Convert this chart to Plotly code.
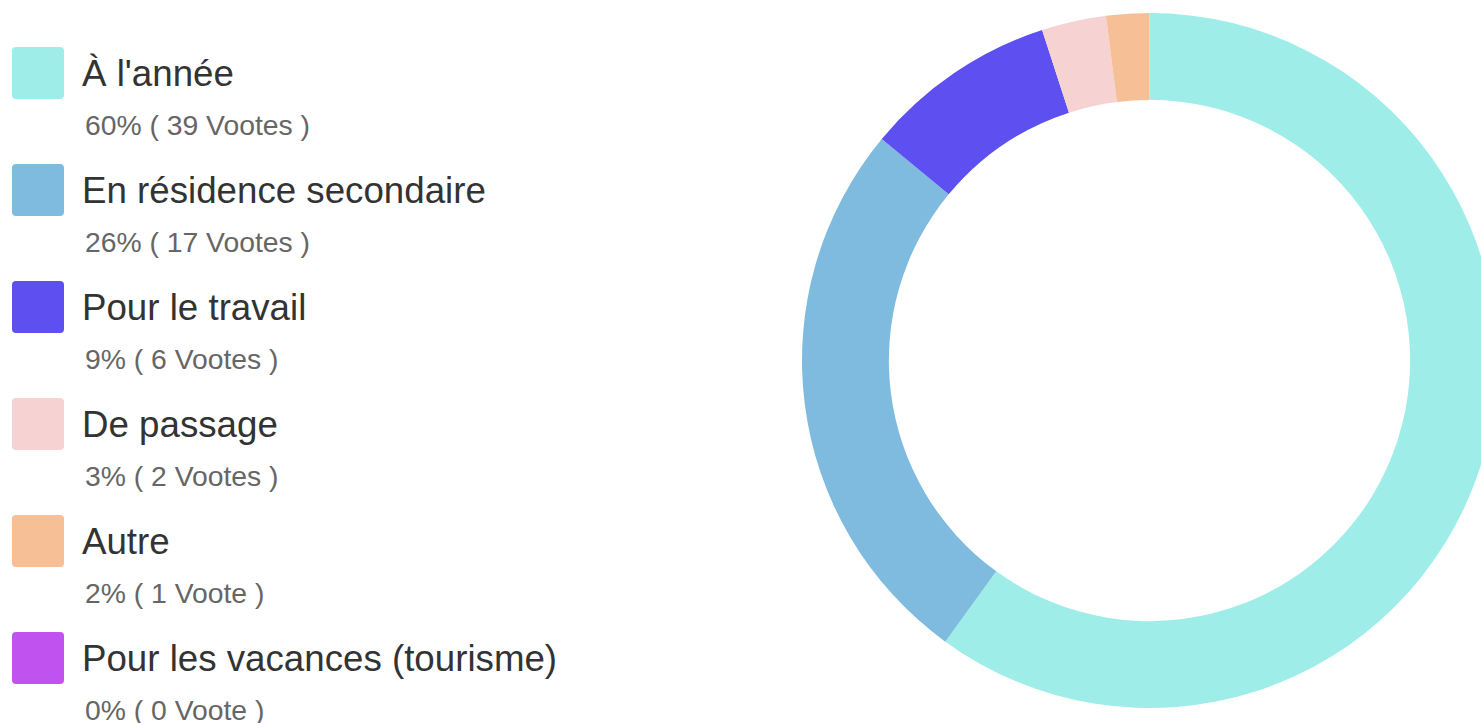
import plotly.graph_objects as go

categories = ["À l'année", "En résidence secondaire", "Pour le travail", "De passage", "Autre", "Pour les vacances (tourisme)"]
votes = [39, 17, 6, 2, 1, 0]
percents = [60, 26, 9, 3, 2, 0]
colors = ["#9eede8", "#7fbbdf", "#5e4ff0", "#f6d2d2", "#f6bf96", "#c052f0"]

W, H = 1500, 723

fig = go.Figure()
fig.add_trace(go.Pie(
    labels=categories, values=percents, sort=False, direction="clockwise", rotation=0,
    hole=0.75, marker=dict(colors=colors, line=dict(width=0)),
    textinfo="none", showlegend=False, hoverinfo="label+percent",
    domain=dict(x=[802 / W, 1497 / W], y=[15 / H, 710 / H]),
))

def rounded(x0, y0, s, r):
    def P(x, y):
        return f"{x / W:.6f},{1 - y / H:.6f}"
    x1, y1 = x0 + s, y0 + s
    return (f"M {P(x0 + r, y0)} L {P(x1 - r, y0)} Q {P(x1, y0)} {P(x1, y0 + r)} "
            f"L {P(x1, y1 - r)} Q {P(x1, y1)} {P(x1 - r, y1)} L {P(x0 + r, y1)} "
            f"Q {P(x0, y1)} {P(x0, y1 - r)} L {P(x0, y0 + r)} Q {P(x0, y0)} {P(x0 + r, y0)} Z")

shapes, annotations = [], []
for i, (cat, v, p, c) in enumerate(zip(categories, votes, percents, colors)):
    top = 47 + 117 * i
    shapes.append(dict(type="path", xref="paper", yref="paper", path=rounded(12, top, 52, 4),
                       fillcolor=c, line=dict(width=0)))
    annotations.append(dict(xref="paper", yref="paper", x=80 / W, y=1 - (top + 26.5) / H,
                            xanchor="left", yanchor="middle", showarrow=False, text=cat,
                            font=dict(family="Liberation Sans, Arial", size=36.7, color="#333333")))
    unit = "Vootes" if v > 1 else "Voote"
    annotations.append(dict(xref="paper", yref="paper", x=83 / W, y=1 - (top + 78) / H,
                            xanchor="left", yanchor="middle", showarrow=False,
                            text=f"{p}% ( {v} {unit} )",
                            font=dict(family="Liberation Sans, Arial", size=28.3, color="#666666")))

fig.update_layout(width=W, height=H, margin=dict(l=0, r=0, t=0, b=0),
                  paper_bgcolor="white", plot_bgcolor="white",
                  shapes=shapes, annotations=annotations)

fig.write_html("out.html")
